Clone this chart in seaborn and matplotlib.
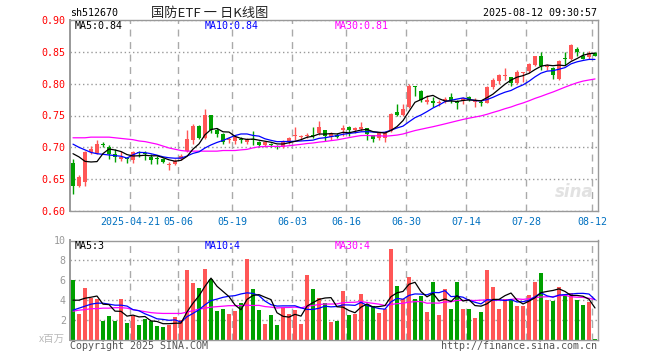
import numpy as np
import pandas as pd
import matplotlib
matplotlib.use("Agg")
import matplotlib.pyplot as plt
import seaborn as sns

# ---- daily K data for sh512670 ----
open_ = [0.676, 0.640, 0.645, 0.692, 0.691, 0.704, 0.701, 0.689, 0.682, 0.682,
         0.680, 0.692, 0.690, 0.685, 0.683, 0.681, 0.673, 0.674, 0.682, 0.694,
         0.712, 0.734, 0.715, 0.750, 0.728, 0.721, 0.712, 0.710, 0.713, 0.708,
         0.713, 0.708, 0.703, 0.705, 0.701, 0.700, 0.708, 0.718, 0.716, 0.718,
         0.720, 0.723, 0.728, 0.716, 0.720, 0.727, 0.732, 0.728, 0.729, 0.731,
         0.719, 0.715, 0.715, 0.725, 0.756, 0.751, 0.763, 0.796, 0.789, 0.771,
         0.773, 0.769, 0.773, 0.779, 0.773, 0.772, 0.779, 0.771, 0.771, 0.770,
         0.794, 0.804, 0.812, 0.810, 0.801, 0.817, 0.820, 0.829, 0.843, 0.826,
         0.825, 0.807, 0.839, 0.838, 0.855, 0.843, 0.842, 0.848]
close = [0.640, 0.653, 0.693, 0.697, 0.705, 0.703, 0.689, 0.685, 0.685, 0.681,
         0.692, 0.691, 0.689, 0.680, 0.682, 0.677, 0.674, 0.678, 0.687, 0.713,
         0.734, 0.715, 0.750, 0.728, 0.721, 0.708, 0.713, 0.716, 0.712, 0.713,
         0.711, 0.704, 0.708, 0.704, 0.700, 0.710, 0.714, 0.719, 0.717, 0.719,
         0.718, 0.732, 0.718, 0.721, 0.716, 0.731, 0.728, 0.729, 0.732, 0.721,
         0.713, 0.723, 0.723, 0.753, 0.751, 0.760, 0.796, 0.794, 0.774, 0.774,
         0.770, 0.770, 0.776, 0.774, 0.770, 0.778, 0.774, 0.774, 0.769, 0.795,
         0.806, 0.813, 0.813, 0.801, 0.818, 0.818, 0.831, 0.843, 0.827, 0.827,
         0.813, 0.836, 0.838, 0.860, 0.850, 0.839, 0.848, 0.843]
high = [0.681, 0.656, 0.694, 0.702, 0.712, 0.708, 0.703, 0.697, 0.695, 0.685,
        0.694, 0.695, 0.694, 0.689, 0.686, 0.683, 0.677, 0.681, 0.689, 0.727,
        0.736, 0.735, 0.760, 0.751, 0.731, 0.723, 0.717, 0.718, 0.716, 0.714,
        0.725, 0.710, 0.709, 0.707, 0.703, 0.711, 0.716, 0.732, 0.720, 0.723,
        0.732, 0.741, 0.728, 0.724, 0.723, 0.735, 0.733, 0.732, 0.740, 0.731,
        0.720, 0.724, 0.725, 0.754, 0.768, 0.768, 0.799, 0.797, 0.790, 0.782,
        0.779, 0.775, 0.779, 0.786, 0.774, 0.779, 0.781, 0.777, 0.774, 0.796,
        0.809, 0.815, 0.824, 0.811, 0.821, 0.819, 0.832, 0.844, 0.850, 0.831,
        0.826, 0.837, 0.850, 0.862, 0.857, 0.850, 0.852, 0.849]
low = [0.626, 0.638, 0.640, 0.689, 0.690, 0.700, 0.682, 0.677, 0.679, 0.676,
       0.676, 0.685, 0.680, 0.674, 0.674, 0.676, 0.664, 0.673, 0.680, 0.693,
       0.705, 0.713, 0.713, 0.723, 0.717, 0.706, 0.707, 0.705, 0.707, 0.706,
       0.704, 0.701, 0.701, 0.701, 0.697, 0.699, 0.706, 0.712, 0.712, 0.715,
       0.715, 0.720, 0.710, 0.712, 0.714, 0.718, 0.718, 0.723, 0.725, 0.712,
       0.708, 0.712, 0.708, 0.724, 0.749, 0.749, 0.762, 0.781, 0.771, 0.768,
       0.763, 0.765, 0.769, 0.769, 0.760, 0.768, 0.773, 0.763, 0.765, 0.769,
       0.792, 0.799, 0.805, 0.797, 0.800, 0.802, 0.816, 0.827, 0.821, 0.821,
       0.807, 0.806, 0.829, 0.837, 0.843, 0.838, 0.839, 0.843]
# volume in millions
volume = [6.0, 2.6, 5.2, 4.2, 4.1, 1.9, 2.4, 1.9, 4.1, 1.7,
          2.4, 1.5, 2.1, 1.9, 1.4, 1.3, 1.5, 2.3, 2.0, 7.0,
          5.7, 5.2, 7.1, 6.1, 2.9, 3.1, 2.6, 2.9, 3.7, 8.1,
          5.1, 3.0, 1.6, 2.5, 1.5, 3.3, 2.6, 3.0, 1.6, 6.5,
          5.1, 4.2, 3.7, 1.8, 1.9, 4.9, 2.5, 2.6, 4.6, 3.5,
          3.4, 2.7, 3.1, 9.1, 5.4, 4.1, 6.3, 4.1, 4.4, 2.8,
          5.8, 2.5, 5.1, 3.1, 5.8, 3.1, 3.1, 2.2, 2.8, 7.0,
          5.3, 3.1, 4.1, 4.1, 3.4, 3.4, 4.5, 5.8, 6.7, 4.0,
          3.9, 5.3, 4.5, 4.7, 4.0, 3.5, 3.8, 0.1]

# moving averages at the start of the window (history before 04-07 not shown)
ma5_head = [0.690, 0.685, 0.678, 0.677]
ma10_head = [0.705, 0.700, 0.696, 0.692, 0.690, 0.689, 0.688, 0.687, 0.686]
ma30_head = [0.715, 0.715, 0.715, 0.716, 0.716, 0.716, 0.716, 0.715, 0.714, 0.713,
             0.712, 0.710, 0.709, 0.707, 0.705, 0.702, 0.699, 0.697, 0.695, 0.694,
             0.694, 0.694, 0.694, 0.694, 0.694, 0.695, 0.695, 0.695, 0.696]
vma5_head = [4.0, 4.0, 4.2, 4.3]
vma10_head = [3.0, 3.2, 3.4, 3.6, 3.7, 3.7, 3.6, 3.5, 3.5]
vma30_head = [2.9, 3.0, 3.05, 3.15, 3.15, 3.2, 3.2, 3.25, 3.25, 3.2,
              3.05, 2.95, 2.85, 2.75, 2.7, 2.67, 2.67, 2.67, 2.67, 2.8,
              2.95, 3.1, 3.2, 3.3, 3.35, 3.4, 3.45, 3.45, 3.45]

holidays = ["2025-05-01", "2025-05-02", "2025-05-05", "2025-06-02"]
tick_dates = ["2025-04-21", "2025-05-06", "2025-05-19", "2025-06-03", "2025-06-16",
              "2025-06-30", "2025-07-14", "2025-07-28", "2025-08-12"]
tick_labels = ["2025-04-21", "05-06", "05-19", "06-03", "06-16",
               "06-30", "07-14", "07-28", "08-12"]

# ---- prepare frame ----
dates = pd.bdate_range("2025-04-07", "2025-08-12").drop(pd.to_datetime(holidays))
df = pd.DataFrame({"open": open_, "close": close, "high": high, "low": low,
                   "vol": volume}, index=dates)
df["x"] = np.arange(len(df))


def moving(series, n, head):
    m = series.rolling(n).mean()
    m.iloc[:len(head)] = head
    return m


df["ma5"] = moving(df["close"], 5, ma5_head)
df["ma10"] = moving(df["close"], 10, ma10_head)
df["ma30"] = moving(df["close"], 30, ma30_head)
df["vma5"] = moving(df["vol"], 5, vma5_head)
df["vma10"] = moving(df["vol"], 10, vma10_head)
df["vma30"] = moving(df["vol"], 30, vma30_head)

tick_pos = [dates.get_loc(pd.Timestamp(d)) - 0.5 for d in tick_dates]

RED = "#ff5656"
GREEN = "#00a000"
colors = np.where(df["close"] >= df["open"], RED, GREEN)

sns.set_style("white")
MONO = "DejaVu Sans Mono"
plt.rcParams["font.family"] = [MONO, "Noto Sans CJK SC"]

W, H = 660, 360
fig = plt.figure(figsize=(6.6, 3.6), dpi=100)
ax_k = fig.add_axes([70 / W, 1 - 211 / H, 528 / W, 191 / H])
ax_v = fig.add_axes([70 / W, 20 / H, 528 / W, 99.5 / H])

# ---- candles ----
body_lo = df[["open", "close"]].min(axis=1)
body_h = (df["close"] - df["open"]).abs().clip(lower=0.0016)
ax_k.vlines(df["x"], df["low"], df["high"], colors=colors, linewidth=1)
ax_k.bar(df["x"], body_h, bottom=body_lo, width=0.8, color=colors, linewidth=0)

for col, c in [("ma30", "#ff00ff"), ("ma10", "#0000ff"), ("ma5", "black")]:
    sns.lineplot(x=df["x"].values, y=df[col].values, ax=ax_k, color=c, linewidth=0.9)

# ---- volume ----
ax_v.bar(df["x"], df["vol"], width=0.8, color=colors, linewidth=0)
for col, c in [("vma30", "#ff00ff"), ("vma10", "#0000ff"), ("vma5", "black")]:
    sns.lineplot(x=df["x"].values, y=df[col].values, ax=ax_v, color=c, linewidth=0.9)

# ---- axes styling ----
for ax in (ax_k, ax_v):
    ax.set_xlim(-0.5, len(df) - 0.5)
    ax.set_xticks(tick_pos)
    ax.xaxis.grid(True, linestyle=(0, (5, 4)), color="#aaaaaa", linewidth=1)
    ax.yaxis.grid(True, linestyle=(0, (1, 2)), color="#999999", linewidth=1)
    for s in ax.spines.values():
        s.set_color("#999999")
        s.set_linewidth(1)
    ax.spines["left"].set_linewidth(1.4)
    ax.tick_params(length=0)
    ax.set_axisbelow(True)

ax_k.set_ylim(0.60, 0.90)
yt = [0.60, 0.65, 0.70, 0.75, 0.80, 0.85, 0.90]
ax_k.set_yticks(yt)
ax_k.set_yticklabels([f"{v:.2f}" for v in yt], color="#ff0000", fontsize=7.2,
                     family=MONO)
ax_k.set_xticklabels(tick_labels, color="#0070c0", fontsize=7.2, family=MONO)
ax_k.tick_params(axis="y", pad=3)
ax_k.tick_params(axis="x", pad=4)

ax_v.set_ylim(0, 10)
vt = [2, 4, 6, 8, 10]
ax_v.set_yticks(vt)
ax_v.set_yticklabels([str(v) for v in vt], color="#999999", fontsize=7.2, family=MONO)
ax_v.set_xticklabels([])
ax_v.tick_params(axis="y", pad=3)


def ftext(x, y, s, **kw):
    kw.setdefault("fontsize", 7.2)
    kw.setdefault("family", MONO)
    fig.text(x / W, 1 - y / H, s, va="center", **kw)


# header
ftext(70, 13, "sh512670", color="black")
ftext(210, 13, "国防ETF 一 日K线图", ha="center", fontsize=9.5,
      family=["Noto Sans CJK SC", "DejaVu Sans"], color="#222222")
ftext(597, 12.5, "2025-08-12 09:30:57", ha="right", color="black")

# MA legends
ftext(75, 26, "MA5:0.84", color="black")
ftext(205, 26, "MA10:0.84", color="#0000ff")
ftext(335, 26, "MA30:0.81", color="#ff00ff")
ftext(75, 246, "MA5:3", color="black")
ftext(205, 246, "MA10:4", color="#0000ff")
ftext(335, 246, "MA30:4", color="#ff00ff")

# footer and unit
ftext(65, 339, "x百万", ha="right", color="#bbbbbb", fontsize=7.5,
      family=["Noto Sans CJK SC", "DejaVu Sans"])
ftext(70, 346, "Copyright 2025 SINA.COM", color="#555555")
ftext(597, 346, "http://finance.sina.com.cn", ha="right", color="#555555")

# faint watermark
ftext(594, 192, "sina", ha="right", fontsize=12, style="italic", weight="bold",
      color="#e2e2e2", family="DejaVu Sans")

fig.savefig("out.png", dpi=100, facecolor="white")
